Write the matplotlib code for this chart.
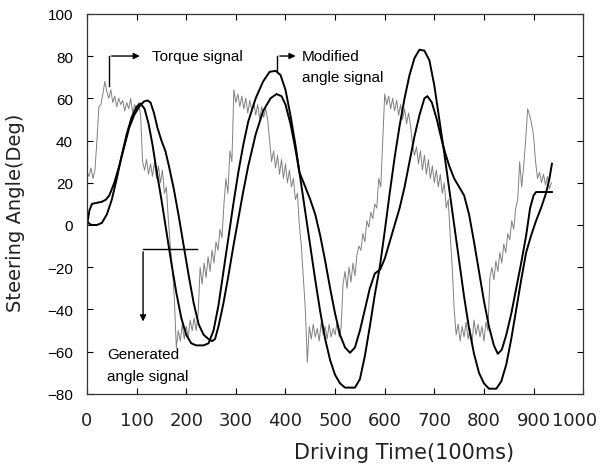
import numpy as np
import matplotlib
matplotlib.use("Agg")
import matplotlib.pyplot as plt
import matplotlib.transforms as mtransforms

plt.rcParams['font.family'] = ['Liberation Sans', 'DejaVu Sans']

# --- Data ---

# Modified angle signal (taller smooth curve)
mod_t = [0, 5, 10, 20, 30, 40, 50, 60, 70, 80, 90, 100, 108, 116, 124, 132, 140, 150,
         160, 170, 180, 190, 200, 210, 220, 235, 245, 255, 265, 275, 285, 295, 305, 315,
         325, 340, 355, 368, 380, 390, 400, 410, 420, 430, 440, 450, 460, 470, 480, 490,
         500, 510, 520, 540, 550, 560, 570, 580, 590, 600, 610, 620, 630, 640, 650, 660,
         670, 680, 690, 700, 710, 720, 730, 740, 750, 760, 770, 780, 790, 800, 810, 825,
         835, 845, 855, 865, 875, 885, 895, 905, 915, 925, 932, 937]
mod_v = [2, 0.5, 0, 0, 1, 5, 12, 22, 33, 43, 51, 56, 57.5, 55, 48, 38, 26, 12,
         -3, -18, -32, -44, -52, -56, -57, -57, -56, -50, -38, -22, -6, 10, 25, 38,
         49, 60, 68, 72.5, 73, 71, 64, 52, 38, 22, 6, -10, -26, -41, -54, -64,
         -71, -75, -77, -77, -73, -62, -48, -33, -20, -3, 15, 32, 47, 60, 71, 79,
         83, 82.5, 78, 66, 50, 34, 17, 0, -17, -34, -49, -61, -70, -75, -77.5, -77.5,
         -74, -66, -54, -40, -26, -13, -5, 2, 8, 15, 22, 29]

# Generated angle signal (smaller curve with plateaus)
gen_t = [0, 5, 10, 20, 30, 38, 45, 55, 65, 75, 85, 95, 105, 115, 122, 128, 135, 142,
         150, 158, 165, 175, 185, 195, 205, 215, 225, 235, 245, 252, 258, 265, 275, 285,
         295, 305, 315, 325, 340, 355, 370, 382, 392, 400, 410, 420, 428, 440, 450, 460,
         470, 480, 490, 500, 510, 520, 530, 540, 550, 560, 570, 580, 591, 600, 610, 620,
         630, 640, 650, 660, 670, 680, 686, 695, 705, 715, 722, 730, 740, 750, 760, 770,
         780, 790, 800, 810, 820, 828, 836, 845, 855, 865, 875, 885, 893, 900, 905, 937]
gen_v = [0, 7, 10, 10.5, 11, 12, 14, 20, 28, 37, 46, 52, 56, 58.5, 59, 58, 53, 46,
         40, 35, 28, 17, 4, -10, -24, -37, -47, -52, -54, -55, -54, -48, -37, -24,
         -10, 3, 16, 28, 43, 54, 60, 62, 61, 57, 48, 36, 25, 18, 12, 5,
         -5, -17, -30, -42, -52, -58, -60.5, -58, -50, -40, -30, -23, -21, -16, -8, 0,
         8, 18, 30, 42, 52, 60, 61, 58, 50, 40, 34, 28, 22, 18, 14, 5,
         -8, -22, -36, -48, -57, -61, -59, -52, -42, -30, -18, -5, 8, 14, 15.6, 15.6]

# Torque signal (noisy gray trace), sampled every 4 units
torque_t = list(range(0, 940, 4))
torque_v = [25, 23, 27, 22, 26, 40, 56, 57, 62, 68, 63, 60, 64, 58, 61, 56, 60, 57, 59, 54,
            58, 55, 60, 53, 57, 54, 58, 52, 30, 26, 31, 24, 29, 23, 30, 22, 28, 20, 26, 15,
            18, 2, -10, -20, -35, -58, -50, -55, -47, -54, -48, -53, -45, -50, -44, -50, -42, -20, -28, -18,
            -25, -15, -22, -12, -18, -8, -12, -2, -6, 10, 22, 15, 35, 30, 64, 58, 62, 56, 61, 55,
            60, 53, 59, 54, 58, 52, 57, 50, 56, 51, 55, 50, 40, 30, 35, 27, 33, 24, 31, 22,
            29, 20, 26, 18, 22, 12, 15, 0, -10, -25, -40, -65, -48, -54, -47, -53, -49, -55, -46, -52,
            -48, -54, -47, -53, -49, -52, -46, -53, -49, -28, -22, -30, -20, -27, -18, -24, -14, -10, -12, -4,
            -8, 2, -1, 6, 3, 10, 8, 22, 18, 40, 62, 57, 61, 55, 60, 54, 59, 52, 57, 50,
            55, 48, 53, 47, 38, 33, 37, 29, 35, 26, 33, 24, 31, 22, 28, 20, 26, 18, 24, 15,
            20, 8, 12, -5, -20, -40, -52, -47, -55, -48, -53, -46, -54, -49, -56, -45, -52, -47, -53, -48,
            -55, -46, -50, -25, -20, -26, -17, -22, -13, -18, -9, -13, -4, -7, 2, -2, 8, 12, 30, 18,
            28, 40, 55, 52, 48, 42, 30, 22, 25, 20, 24, 19, 23, 17, 20]

x_ticks = [0, 100, 200, 300, 400, 500, 600, 700, 800, 900, 1000]
y_ticks = [-80, -60, -40, -20, 0, 20, 40, 60, 80, 100]

fig = plt.figure(figsize=(6.0, 4.77), dpi=100)
ax = fig.add_axes([0.145, 0.172, 0.827, 0.797])

ax.plot(torque_t, torque_v, color='#808080', lw=0.7)
ax.plot(mod_t, mod_v, color='black', lw=1.4)
ax.plot(gen_t, gen_v, color='black', lw=1.4)

ax.set_xlim(0, 1000)
ax.set_ylim(-80, 100)
ax.set_xticks(x_ticks)
ax.set_yticks(y_ticks)
ax.tick_params(direction='in', top=True, right=True, length=4, width=0.8)
ax.tick_params(axis='x', labelsize=13, pad=12)
ax.tick_params(axis='y', labelsize=11, pad=10)
xlabels = ax.get_xticklabels()
for lab in xlabels:
    lab.set_family('DejaVu Sans')
    lab.set_color('#222222')
# last label sits a bit to the left in the original
xlabels[-1].set_transform(xlabels[-1].get_transform() +
                          mtransforms.ScaledTranslation(-9 / 100, 0, fig.dpi_scale_trans))
for sp in ax.spines.values():
    sp.set_linewidth(0.9)
    sp.set_color('#333333')

ax.set_xlabel('Driving Time(100ms)', fontsize=15, family='DejaVu Sans', color='#222222')
ax.xaxis.set_label_coords(0.639, -0.153)
ax.xaxis.label.set_va('center')
ax.set_ylabel('Steering Angle(Deg)', fontsize=14, family='DejaVu Sans', color='#222222')
ax.yaxis.set_label_coords(-0.145, 0.48)
ax.yaxis.label.set_va('center')

# annotations
arrow = dict(arrowstyle='-|>', color='black', lw=1.0, mutation_scale=9)
ax.plot([44, 44], [66, 80], color='black', lw=1.0)
ax.annotate('', xy=(112, 80), xytext=(44, 80), arrowprops=arrow)
ax.text(131, 80, 'Torque signal', fontsize=11, va='center', ha='left')

ax.plot([383, 383], [73, 80], color='black', lw=1.0)
ax.annotate('', xy=(426, 80), xytext=(383, 80), arrowprops=arrow)
ax.text(433, 80, 'Modified', fontsize=11, va='center', ha='left')
ax.text(433, 70.3, 'angle signal', fontsize=11, va='center', ha='left')

ax.plot([222, 113], [-11.4, -11.4], color='black', lw=1.0)
ax.annotate('', xy=(113, -47), xytext=(113, -11.4), arrowprops=arrow)
ax.text(40, -61, 'Generated', fontsize=11, va='center', ha='left')
ax.text(40, -71.6, 'angle signal', fontsize=11, va='center', ha='left')

fig.savefig('out.png', dpi=100)
